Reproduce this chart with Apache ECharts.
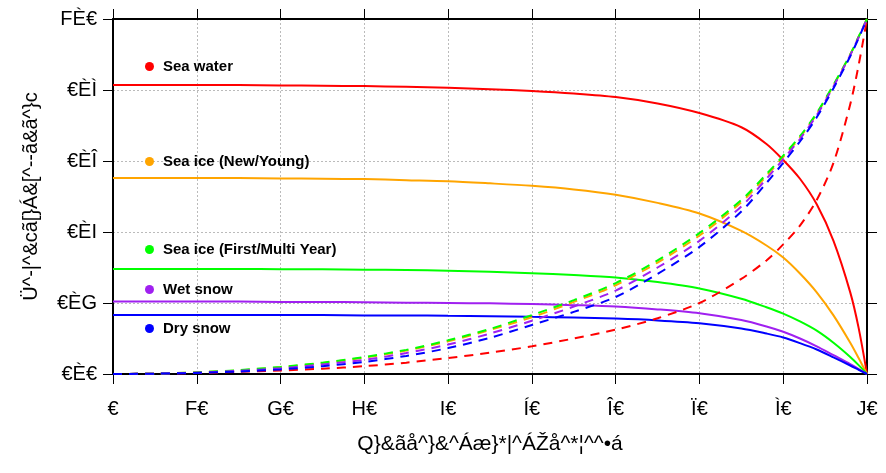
<!DOCTYPE html>
<html>
<head>
<meta charset="utf-8">
<script src="https://cdn.jsdelivr.net/npm/echarts@6/dist/echarts.min.js"></script>
<style>html,body{margin:0;padding:0;background:#fff}#c{width:886px;height:473px}</style>
</head>
<body>
<div id="c"></div>
<script>
var angles = [0,5,10,15,20,25,30,35,40,45,50,55,60,65,70,75,78,80,82,84,86,88,89,90];
var xTickLabels = ["€","F€","G€","H€","I€","Í€","Î€","Ï€","Ì€","J€"];
var yTickLabels = ["€È€","€ÈG","€ÈI","€ÈÎ","€ÈÌ","FÈ€"];
var xTitle = "Q}&ãå^}&^Áæ}*|^ÁŽå^*¦^^•á";
var yTitle = "Ü^-|^&cã[}Á&[^--ã&ã^}c";
var names = ["Sea water","Sea ice (New/Young)","Sea ice (First/Multi Year)","Wet snow","Dry snow"];
var colors = ["#ff0000","#ffa500","#00ff00","#a020f0","#0000ff"];

var seaWaterSolid = [0.814,0.814,0.814,0.814,0.813,0.812,0.811,0.809,0.806,0.802,0.797,0.790,0.780,0.762,0.735,0.695,0.648,0.603,0.550,0.478,0.375,0.230,0.130,0];
var newIceSolid   = [0.552,0.552,0.552,0.552,0.551,0.550,0.549,0.546,0.543,0.537,0.530,0.520,0.505,0.482,0.452,0.403,0.362,0.328,0.283,0.230,0.165,0.088,0.045,0];
var multiIceSolid = [0.296,0.296,0.296,0.296,0.295,0.295,0.294,0.293,0.291,0.288,0.284,0.279,0.272,0.259,0.241,0.212,0.188,0.170,0.148,0.122,0.088,0.048,0.025,0];
var wetSnowSolid  = [0.204,0.204,0.204,0.204,0.203,0.203,0.202,0.201,0.200,0.199,0.197,0.194,0.190,0.182,0.171,0.152,0.134,0.119,0.100,0.078,0.053,0.028,0.014,0];
var drySnowSolid  = [0.166,0.166,0.166,0.166,0.166,0.166,0.165,0.165,0.164,0.163,0.161,0.159,0.156,0.151,0.143,0.128,0.114,0.103,0.087,0.069,0.047,0.024,0.012,0];

var seaWaterDash  = [0,0.001,0.003,0.006,0.010,0.015,0.022,0.032,0.045,0.060,0.078,0.100,0.125,0.157,0.200,0.268,0.320,0.365,0.418,0.490,0.595,0.760,0.870,1];
var newIceDash    = [0,0.001,0.005,0.010,0.019,0.031,0.046,0.066,0.092,0.124,0.160,0.203,0.250,0.314,0.390,0.484,0.558,0.611,0.667,0.733,0.813,0.900,0.950,1];
var multiIceDash  = [0,0.001,0.005,0.011,0.020,0.032,0.048,0.068,0.095,0.127,0.166,0.208,0.256,0.320,0.397,0.490,0.563,0.615,0.670,0.735,0.815,0.900,0.950,1];
var wetSnowDash   = [0,0.001,0.004,0.009,0.016,0.027,0.040,0.059,0.083,0.114,0.150,0.190,0.235,0.300,0.375,0.472,0.550,0.605,0.662,0.729,0.810,0.898,0.948,1];
var drySnowDash   = [0,0.001,0.003,0.007,0.013,0.022,0.034,0.051,0.073,0.102,0.138,0.175,0.217,0.282,0.358,0.458,0.538,0.595,0.655,0.723,0.805,0.895,0.946,1];

var legendCenters = [67, 162, 250, 290, 329];

var solids = [seaWaterSolid,newIceSolid,multiIceSolid,wetSnowSolid,drySnowSolid];
var dashes = [seaWaterDash,newIceDash,multiIceDash,wetSnowDash,drySnowDash];

function pairs(vals){ return angles.map(function(a,i){ return [a, vals[i]]; }); }

var series = [];
for (var i=0;i<5;i++){
  series.push({name:names[i], type:'line', data:pairs(solids[i]), smooth:0.3, showSymbol:false,
    lineStyle:{color:colors[i], width:2}, itemStyle:{color:colors[i]}, z:2});
}
for (var j=0;j<5;j++){
  series.push({name:names[j], type:'line', data:pairs(dashes[j]), smooth:0.3, showSymbol:false,
    lineStyle:{color:colors[j], width:2, type:[9,7]}, itemStyle:{color:colors[j]}, z:3});
}

var legends = names.map(function(n,i){
  return {data:[n], left:145, top:legendCenters[i]-8, orient:'vertical', padding:0,
    icon:'circle', itemWidth:9, itemHeight:9, selectedMode:false,
    textStyle:{fontFamily:'Liberation Sans', fontWeight:'bold', fontSize:15, color:'#000', padding:[0,0,0,4]}};
});

var tickStyle = {show:true, inside:false, length:10, lineStyle:{color:'#000', width:1}};
var fontF = 'Liberation Sans';

var chart = echarts.init(document.getElementById('c'), null, {renderer:'canvas'});
chart.setOption({
  animation:false,
  backgroundColor:'#fff',
  legend: legends,
  grid:{left:113, right:19, top:19, bottom:99, containLabel:false},
  xAxis:[{
    type:'value', min:0, max:90, interval:10, position:'bottom',
    name:xTitle, nameLocation:'middle', nameGap:60,
    nameTextStyle:{fontFamily:fontF, fontSize:21, color:'#000'},
    axisLine:{show:true, onZero:false, lineStyle:{color:'#000', width:2}},
    axisTick:tickStyle,
    axisLabel:{fontFamily:fontF, fontSize:20, color:'#000', margin:25,
      formatter:function(v){ return xTickLabels[Math.round(v/10)]; }},
    splitLine:{show:true, lineStyle:{color:'#bbbbbb', width:1, type:[2,2]}}
  },{
    type:'value', min:0, max:90, interval:10, position:'top',
    axisLine:{show:true, onZero:false, lineStyle:{color:'#000', width:2}},
    axisTick:tickStyle, axisLabel:{show:false}, splitLine:{show:false}
  }],
  yAxis:[{
    type:'value', min:0, max:1, interval:0.2, position:'left',
    name:yTitle, nameLocation:'middle', nameGap:72, nameRotate:90,
    nameTextStyle:{fontFamily:fontF, fontSize:20, color:'#000'},
    axisLine:{show:true, onZero:false, lineStyle:{color:'#000', width:2}},
    axisTick:tickStyle,
    axisLabel:{fontFamily:fontF, fontSize:20, color:'#000', margin:16,
      formatter:function(v){ return yTickLabels[Math.round(v/0.2)]; }},
    splitLine:{show:true, lineStyle:{color:'#bbbbbb', width:1, type:[2,2]}}
  },{
    type:'value', min:0, max:1, interval:0.2, position:'right',
    axisLine:{show:true, onZero:false, lineStyle:{color:'#000', width:2}},
    axisTick:tickStyle, axisLabel:{show:false}, splitLine:{show:false}
  }],
  series: series
});
</script>
</body>
</html>
